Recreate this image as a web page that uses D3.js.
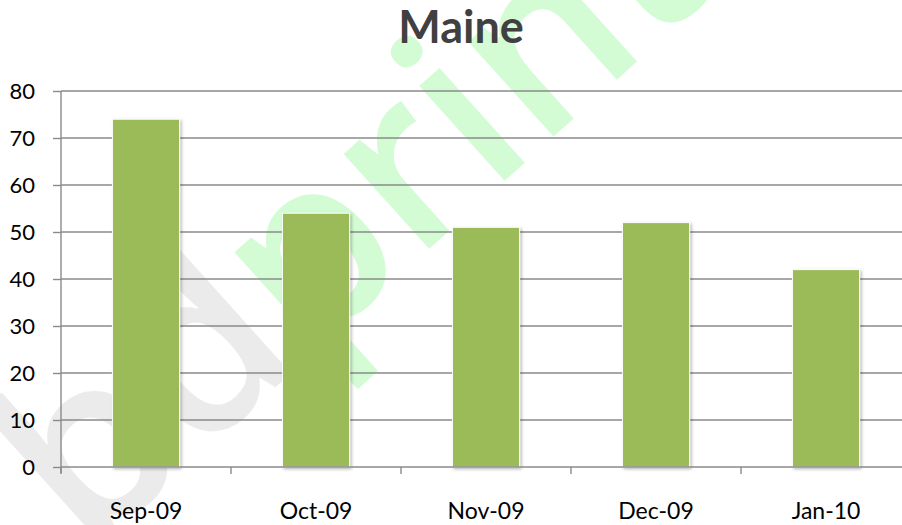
<!DOCTYPE html>
<html>
<head>
<meta charset="utf-8">
<script src="https://cdn.jsdelivr.net/npm/d3@7"></script>
<style>
  html, body { margin: 0; padding: 0; background: #ffffff; }
  svg { display: block; }
</style>
</head>
<body>
<svg id="chart" width="902" height="525"></svg>
<script>
// ---- data ----
const titleText = "Maine";
const categories = ["Sep-09", "Oct-09", "Nov-09", "Dec-09", "Jan-10"];
const values = [74, 54, 51, 52, 42];
const yTicks = [0, 10, 20, 30, 40, 50, 60, 70, 80];
const watermarkGray = "bd";
const watermarkGreen = "print";

// ---- layout ----
const W = 902, H = 525;
const plot = { left: 61, right: 911, top: 91, bottom: 467 };
const svg = d3.select("#chart");

const x = d3.scaleBand().domain(categories).range([plot.left, plot.right])
  .paddingInner(0.605).paddingOuter(0.3025);
const y = d3.scaleLinear().domain([0, 80]).range([plot.bottom, plot.top]);

// watermark (behind everything)
const fs = 236, ang = -42;
const wm = svg.append("text")
  .style("font-family", "'Open Sans', sans-serif")
  .style("font-weight", 600)
  .style("font-size", fs + "px");
wm.append("tspan").attr("fill", "#ebebeb").text(watermarkGray);
wm.append("tspan").attr("fill", "#d3fcd5").text(watermarkGreen);
const pStart = wm.node().getStartPositionOfChar(2).x;
const along = pStart + 0.14 * fs;
const rad = ang * Math.PI / 180;
const target = [330, 338];
const ox = target[0] - along * Math.cos(rad);
const oy = target[1] - along * Math.sin(rad);
wm.attr("transform", `translate(${ox},${oy}) rotate(${ang})`);

// shadow filter
const defs = svg.append("defs");
const f = defs.append("filter").attr("id", "shadow").attr("x", "-20%").attr("y", "-20%").attr("width", "140%").attr("height", "140%");
f.append("feDropShadow").attr("dx", 1.5).attr("dy", 1.5).attr("stdDeviation", 1.5)
  .attr("flood-color", "#000").attr("flood-opacity", 0.3);

// gridlines
svg.append("g")
  .selectAll("line").data(yTicks.filter(d => d !== 0)).join("line")
  .attr("x1", plot.left).attr("x2", plot.right)
  .attr("y1", d => y(d)).attr("y2", d => y(d))
  .attr("stroke", "#8a8a8a").attr("stroke-width", 1.4);

// bars
svg.append("g")
  .selectAll("rect").data(categories).join("rect")
  .attr("x", d => x(d))
  .attr("y", (d, i) => y(values[i]))
  .attr("width", x.bandwidth())
  .attr("height", (d, i) => y(0) - y(values[i]))
  .attr("fill", "#9bbb59")
  .attr("stroke", "#ffffff").attr("stroke-width", 1)
  .attr("filter", "url(#shadow)");

// y axis
const yAxis = d3.axisLeft(y).tickValues(yTicks).tickSize(8).tickPadding(18).tickFormat(d3.format("d"));
const gy = svg.append("g").attr("transform", `translate(${plot.left},0)`).call(yAxis);
gy.select(".domain").attr("stroke", "#8a8a8a").attr("stroke-width", 1.4)
  .attr("d", `M0,${plot.top}V${plot.bottom + 6}`);
gy.selectAll(".tick line").attr("stroke", "#8a8a8a").attr("stroke-width", 1.4);
gy.selectAll(".tick text")
  .style("font-family", "Lato, sans-serif").style("font-size", "22px").attr("fill", "#000")
  .attr("dy", "0.36em");

// x axis
const bounds = categories.map((c, i) => plot.left + i * x.step());
bounds.push(plot.right);
const gx = svg.append("g").attr("transform", `translate(0,${plot.bottom})`);
gx.append("line").attr("x1", plot.left).attr("x2", plot.right).attr("y1", 0).attr("y2", 0)
  .attr("stroke", "#8a8a8a").attr("stroke-width", 1.4);
gx.selectAll("line.tk").data(bounds).join("line").attr("class", "tk")
  .attr("x1", d => d).attr("x2", d => d).attr("y1", 0).attr("y2", 7)
  .attr("stroke", "#8a8a8a").attr("stroke-width", 1.4);
gx.selectAll("text").data(categories).join("text")
  .attr("x", d => x(d) + x.bandwidth() / 2)
  .attr("y", 52)
  .attr("text-anchor", "middle")
  .style("font-family", "Lato, sans-serif").style("font-size", "23px").attr("fill", "#000")
  .text(d => d);

// title
svg.append("text")
  .attr("x", 461).attr("y", 43)
  .attr("text-anchor", "middle")
  .style("font-family", "Lato, sans-serif").style("font-weight", 700).style("font-size", "45px")
  .attr("fill", "#404040")
  .text(titleText);
</script>
</body>
</html>
